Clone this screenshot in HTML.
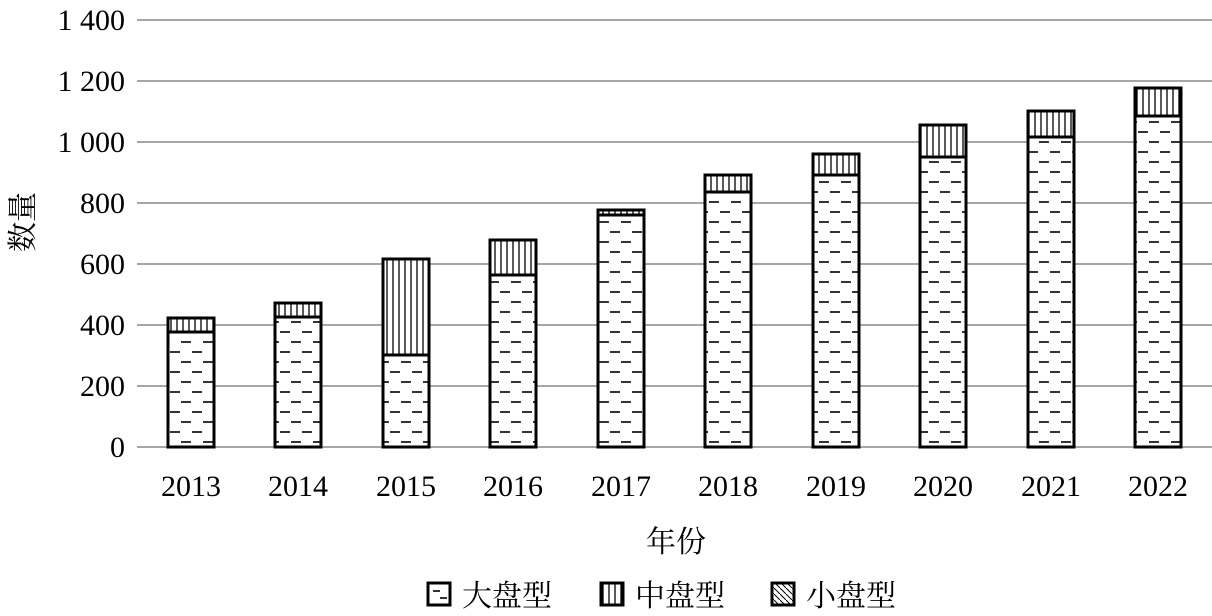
<!DOCTYPE html>
<html><head><meta charset="utf-8"><style>body{margin:0;background:#fff}</style></head><body>
<svg width="1212" height="611" xmlns="http://www.w3.org/2000/svg" font-family="'Liberation Serif','Noto Serif CJK SC',serif">
<defs>
<pattern id="dash" x="168" y="447" width="22" height="20" patternUnits="userSpaceOnUse"><rect width="22" height="20" fill="#fff"/><line x1="2" y1="5" x2="12" y2="5" stroke="#000" stroke-width="1.6"/><line x1="13" y1="15" x2="22" y2="15" stroke="#000" stroke-width="1.6"/><line x1="0" y1="15" x2="1" y2="15" stroke="#000" stroke-width="1.6"/></pattern>
<pattern id="vert" width="6" height="10" patternUnits="userSpaceOnUse"><rect width="6" height="10" fill="#fff"/><line x1="3" y1="0" x2="3" y2="10" stroke="#000" stroke-width="1.3"/></pattern>
<pattern id="diag" width="6" height="6" patternUnits="userSpaceOnUse"><rect width="6" height="6" fill="#fff"/><line x1="0" y1="0" x2="6" y2="6" stroke="#000" stroke-width="1"/></pattern>
</defs>
<g stroke="#a6a6a6" stroke-width="2">
<line x1="137" y1="20" x2="1212" y2="20"/><line x1="137" y1="81" x2="1212" y2="81"/><line x1="137" y1="142" x2="1212" y2="142"/><line x1="137" y1="203" x2="1212" y2="203"/><line x1="137" y1="264" x2="1212" y2="264"/><line x1="137" y1="325" x2="1212" y2="325"/><line x1="137" y1="386" x2="1212" y2="386"/><line x1="137" y1="447" x2="1212" y2="447"/>
</g>
<g font-size="30" text-anchor="end">
<text x="125" y="30">1 400</text><text x="125" y="91">1 200</text><text x="125" y="152">1 000</text><text x="125" y="213">800</text><text x="125" y="274">600</text><text x="125" y="335">400</text><text x="125" y="396">200</text><text x="125" y="457">0</text>
</g>
<g stroke="#000" stroke-width="3">
<rect x="168" y="332" width="46" height="115" fill="url(#dash)"/><rect x="168" y="318" width="46" height="14" fill="url(#vert)"/>
<rect x="275" y="317" width="46" height="130" fill="url(#dash)"/><rect x="275" y="303" width="46" height="14" fill="url(#vert)"/>
<rect x="383" y="355" width="46" height="92" fill="url(#dash)"/><rect x="383" y="259" width="46" height="96" fill="url(#vert)"/>
<rect x="490" y="275" width="46" height="172" fill="url(#dash)"/><rect x="490" y="240" width="46" height="35" fill="url(#vert)"/>
<rect x="598" y="215" width="46" height="232" fill="url(#dash)"/><rect x="598" y="210" width="46" height="5" fill="url(#vert)"/>
<rect x="705" y="192" width="46" height="255" fill="url(#dash)"/><rect x="705" y="175" width="46" height="17" fill="url(#vert)"/>
<rect x="813" y="175" width="46" height="272" fill="url(#dash)"/><rect x="813" y="154" width="46" height="21" fill="url(#vert)"/>
<rect x="920" y="157" width="46" height="290" fill="url(#dash)"/><rect x="920" y="125" width="46" height="32" fill="url(#vert)"/>
<rect x="1028" y="137" width="46" height="310" fill="url(#dash)"/><rect x="1028" y="111" width="46" height="26" fill="url(#vert)"/>
<rect x="1135" y="116" width="46" height="331" fill="url(#dash)"/><rect x="1135" y="88" width="46" height="28" fill="url(#vert)"/>
</g>
<g font-size="30" text-anchor="middle">
<text x="191" y="496">2013</text><text x="298" y="496">2014</text><text x="406" y="496">2015</text><text x="513" y="496">2016</text><text x="621" y="496">2017</text><text x="728" y="496">2018</text><text x="836" y="496">2019</text><text x="943" y="496">2020</text><text x="1051" y="496">2021</text><text x="1158" y="496">2022</text>
<text x="676" y="552">年份</text>
</g>
<text font-size="30" transform="translate(33,222) rotate(-90)" text-anchor="middle">数量</text>
<g stroke="#000" stroke-width="3">
<rect x="428" y="583" width="22" height="22" fill="#fff"/>
<line x1="433" y1="591" x2="440" y2="591" stroke-width="1.6"/><line x1="440" y1="598" x2="447" y2="598" stroke-width="1.6"/>
<rect x="601" y="583" width="22" height="22" fill="url(#vert)"/>
<rect x="772" y="583" width="22" height="22" fill="url(#diag)"/>
</g>
<g font-size="30">
<text x="462" y="606">大盘型</text><text x="635" y="606">中盘型</text><text x="806" y="606">小盘型</text>
</g>
</svg>
</body></html>
